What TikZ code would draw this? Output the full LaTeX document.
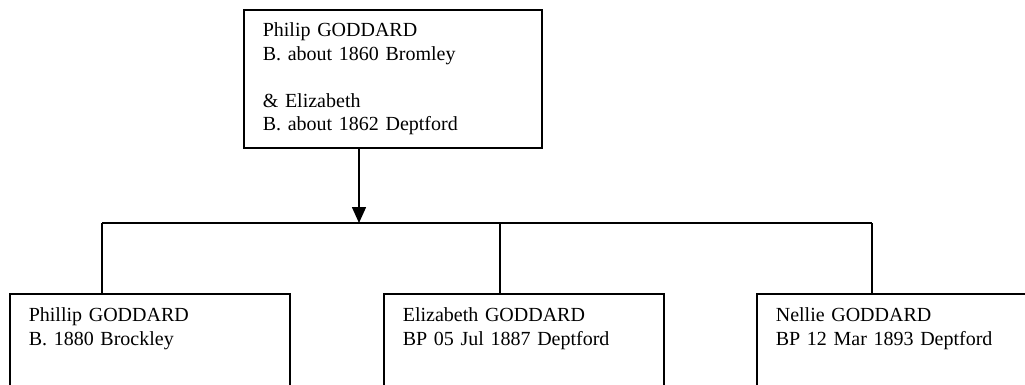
\documentclass[tikz,border=0pt]{standalone}
\usepackage{fontspec}
\setmainfont{Liberation Serif}
\usetikzlibrary{arrows.meta,positioning}
\tikzset{
  person/.style={rectangle,draw=black,line width=1.6pt,anchor=north west,
    font=\fontsize{20}{23.5}\selectfont,text width=#1,align=left,
    inner xsep=19pt,inner ysep=0pt},
  parent/.style={person=260pt,text height=27pt,text depth=111pt},
  child/.style={person=242pt,text height=28pt,text depth=200pt},
  link/.style={line width=1.6pt,draw=black},
  arrow/.style={link,-{Triangle[length=16pt,width=14pt]}}
}
\begin{document}
\begin{tikzpicture}[x=1pt,y=-1pt]
  \useasboundingbox (0,0) rectangle (1025,385);
  \clip (0,0) rectangle (1025,385);
  % parents
  \node[parent] (parents) at (243,9)
    {Philip GODDARD\\B. about 1860 Bromley\\[23.5pt]
     \& Elizabeth\\B. about 1862 Deptford};
  % children
  \node[child] (kid1) at (9,293) {Phillip GODDARD\\B. 1880 Brockley};
  \node[child] (kid2) at (383,293) {Elizabeth GODDARD\\BP 05 Jul 1887 Deptford};
  \node[child,text width=300pt] (kid3) at (756,293) {Nellie GODDARD\\BP 12 Mar 1893 Deptford};
  % family bar
  \coordinate (bar) at (359,223);
  \coordinate (j1) at (102,223);
  \coordinate (j2) at (500,223);
  \coordinate (j3) at (872,223);
  \draw[arrow] (bar |- parents.south) -- (bar);
  \draw[link] (j1) -- (j3);
  \draw[link] (j1) -- (j1 |- kid1.north);
  \draw[link] (j2) -- (j2 |- kid2.north);
  \draw[link] (j3) -- (j3 |- kid3.north);
\end{tikzpicture}
\end{document}
